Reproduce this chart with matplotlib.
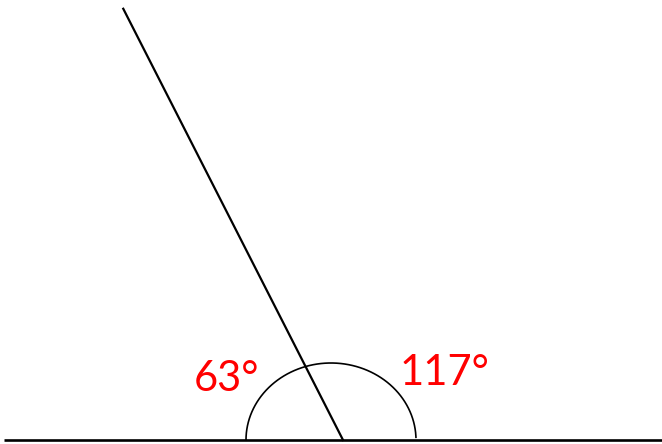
import numpy as np
import matplotlib
matplotlib.use("Agg")
import matplotlib.pyplot as plt

# Data
angles = [63, 117]
labels = ["63°", "117°"]
vertex = (343, 440)
ray_length = 484

fig = plt.figure(figsize=(6.62, 4.44), dpi=100)
ax = fig.add_axes([0, 0, 1, 1])
ax.set_xlim(0, 662)
ax.set_ylim(444, 0)
ax.axis("off")

# baseline
ax.plot([4, 662], [vertex[1], vertex[1]], color="black", lw=1.9, solid_capstyle="butt")

# ray at 117 degrees from positive x axis
theta = np.deg2rad(angles[1])
x_end = vertex[0] + ray_length * np.cos(theta)
y_end = vertex[1] - ray_length * np.sin(theta)
ax.plot([vertex[0], x_end], [vertex[1], y_end], color="black", lw=1.6)

# semicircular arc marker
cx, cy, rx, ry = 331, 440, 85, 77
t = np.linspace(np.pi, np.deg2rad(2), 200)
ax.plot(cx + rx * np.cos(t), cy - ry * np.sin(t), color="black", lw=1.2)

ax.text(227, 379, labels[0], color="red", fontsize=30, family="Lato",
        ha="center", va="center")
ax.text(444, 373, labels[1], color="red", fontsize=30, family="Lato",
        ha="center", va="center")

fig.savefig("out.png", dpi=100)
